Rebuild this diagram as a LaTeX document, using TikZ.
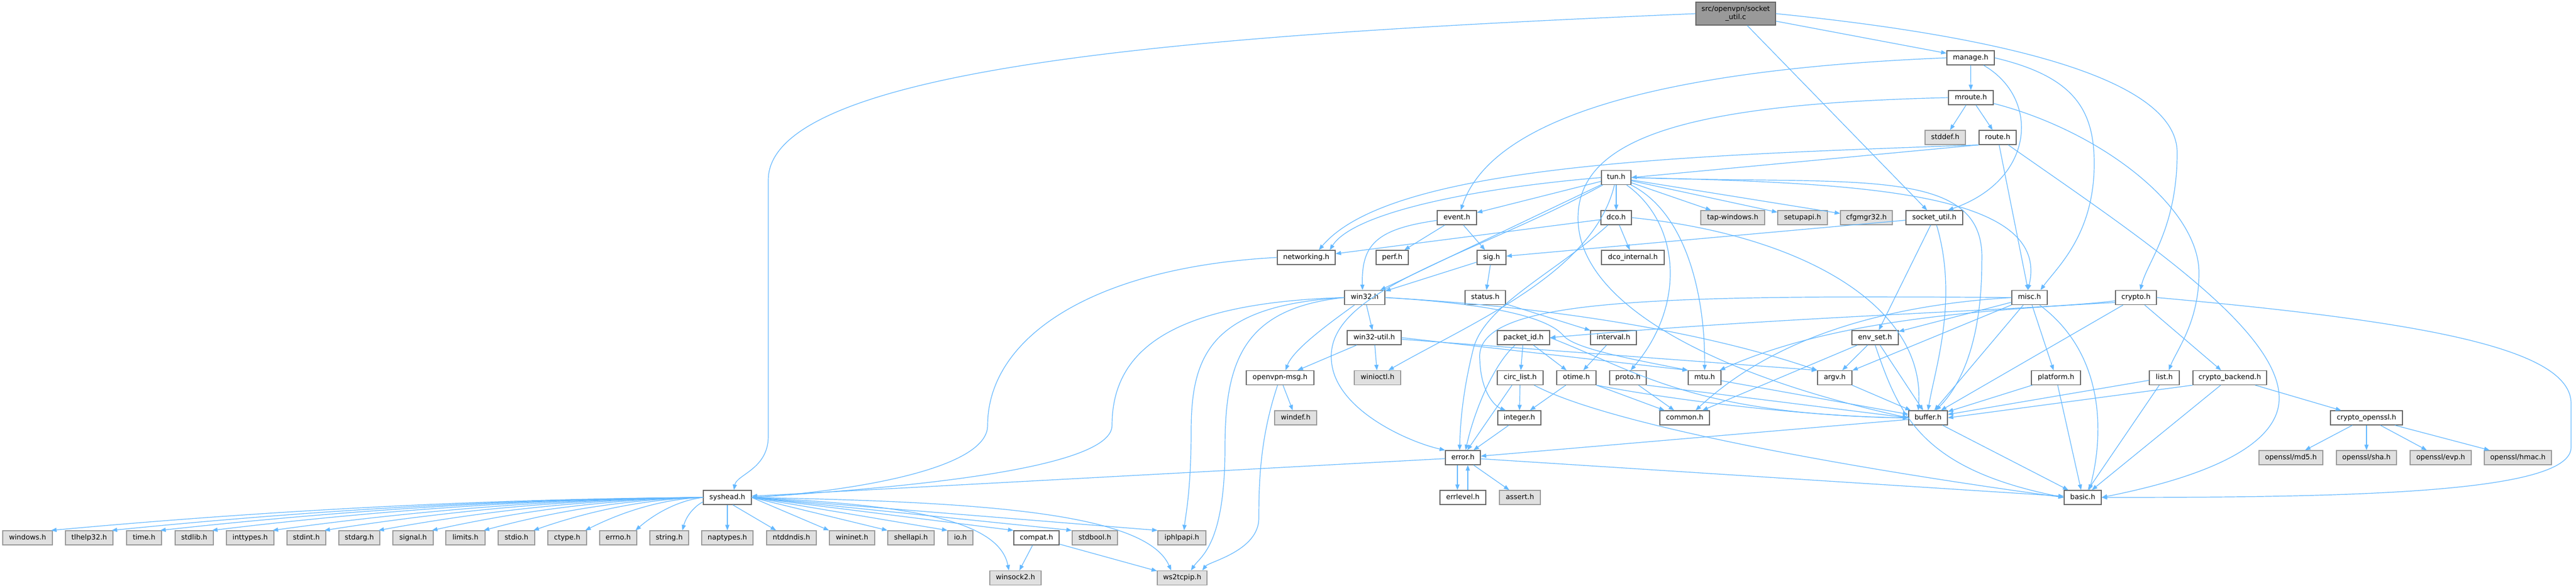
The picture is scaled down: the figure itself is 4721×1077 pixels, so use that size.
\documentclass[tikz,border=0pt]{standalone}
\usepackage{fontspec}
\setmainfont{DejaVu Sans}
\usetikzlibrary{arrows.meta}
\definecolor{edgeblue}{HTML}{63B8FF}
\definecolor{nodeborder}{HTML}{666666}
\definecolor{extfill}{HTML}{E0E0E0}
\definecolor{extborder}{HTML}{999999}
\definecolor{rootfill}{HTML}{999999}
\begin{document}
\begin{tikzpicture}[x=1pt,y=-1pt,
  nd/.style={draw=nodeborder, fill=white, line width=1.3pt, inner sep=0pt,
    minimum height=26pt, text height=9.7pt, text depth=3.3pt,
    font=\fontsize{12.9pt}{15pt}\selectfont},
  ext/.style={nd, draw=extborder, fill=extfill},
  wd/.style={minimum width=#1pt},
  dep/.style={draw=edgeblue, line width=1.2pt, -{Triangle[length=10pt,width=7.5pt]}}
]
\useasboundingbox (0,0) rectangle (4721,1077);
\fill[white] (0,0) rectangle (4721,1077);

% ---------- nodes ----------
\node[draw=nodeborder, fill=rootfill, line width=1.3pt, inner sep=0pt,
  minimum width=146pt, minimum height=42pt, align=center,
  font=\fontsize{12.9pt}{15pt}\selectfont] (src) at (3181,25) {src/openvpn/socket\\\_util.c};
\node[nd,wd=87] (manage) at (3611.5,106) {manage.h};
\node[nd,wd=82] (mroute) at (3612,179) {mroute.h};
\node[ext,wd=74] (stddef) at (3565,252) {stddef.h};
\node[nd,wd=68] (route) at (3661,252) {route.h};
\node[nd,wd=54] (tun) at (2962,325.5) {tun.h};
\node[nd,wd=72] (event) at (2670,399) {event.h};
\node[nd,wd=56] (dco) at (2962,399) {dco.h};
\node[ext,wd=117] (tapwin) at (3175.5,399) {tap-windows.h};
\node[ext,wd=91] (setupapi) at (3303.5,399) {setupapi.h};
\node[ext,wd=95] (cfgmgr) at (3420.5,399) {cfgmgr32.h};
\node[nd,wd=104] (sockh) at (3545,399) {socket\_util.h};
\node[nd,wd=106] (networking) at (2394,472) {networking.h};
\node[nd,wd=59] (perf) at (2551.5,472) {perf.h};
\node[nd,wd=53] (sig) at (2733.5,472) {sig.h};
\node[nd,wd=115] (dcoint) at (2992.5,472) {dco\_internal.h};
\node[nd,wd=74] (win32) at (2501,545.5) {win32.h};
\node[nd,wd=74] (status) at (2722,545.5) {status.h};
\node[nd,wd=65] (misc) at (3719.5,545.5) {misc.h};
\node[nd,wd=75] (crypto) at (3914.5,545.5) {crypto.h};
\node[nd,wd=99] (win32util) at (2518.5,619) {win32-util.h};
\node[nd,wd=96] (packetid) at (2792,619) {packet\_id.h};
\node[nd,wd=84] (interval) at (2957,619) {interval.h};
\node[nd,wd=85] (envset) at (3436.5,619) {env\_set.h};
\node[nd,wd=124] (ovpnmsg) at (2346,692.5) {openvpn-msg.h};
\node[ext,wd=85] (winioctl) at (2524.5,692.5) {winioctl.h};
\node[nd,wd=84] (circlist) at (2786,692.5) {circ\_list.h};
\node[nd,wd=72] (otime) at (2889,692.5) {otime.h};
\node[nd,wd=67] (proto) at (2983.5,692.5) {proto.h};
\node[nd,wd=60] (mtu) at (3124,692.5) {mtu.h};
\node[nd,wd=63] (argv) at (3362.5,692.5) {argv.h};
\node[nd,wd=90] (platform) at (3768,692.5) {platform.h};
\node[nd,wd=55] (listh) at (3966.5,692.5) {list.h};
\node[nd,wd=135] (cbackend) at (4086.5,692.5) {crypto\_backend.h};
\node[ext,wd=77] (windef) at (2374.5,766) {windef.h};
\node[nd,wd=79] (integer) at (2784.5,766) {integer.h};
\node[nd,wd=91] (common) at (3087.5,766) {common.h};
\node[nd,wd=71] (buffer) at (3533.5,766) {buffer.h};
\node[nd,wd=132] (copenssl) at (4337,766) {crypto\_openssl.h};
\node[nd,wd=64] (errorh) at (2681,839) {error.h};
\node[ext,wd=117] (md5) at (4198.5,839) {openssl/md5.h};
\node[ext,wd=110] (sha) at (4337,839) {openssl/sha.h};
\node[ext,wd=112] (evp) at (4473,839) {openssl/evp.h};
\node[ext,wd=123] (hmac) at (4614.5,839) {openssl/hmac.h};
\node[nd,wd=88] (syshead) at (1333,912) {syshead.h};
\node[nd,wd=84] (errlevel) at (2681,912) {errlevel.h};
\node[ext,wd=75] (asserth) at (2785.5,912) {assert.h};
\node[nd,wd=68] (basic) at (3817,912) {basic.h};
\node[ext,wd=91] (windows) at (50.5,986) {windows.h};
\node[ext,wd=87] (tlhelp) at (163.5,986) {tlhelp32.h};
\node[ext,wd=64] (timeh) at (264,986) {time.h};
\node[ext,wd=70] (stdlib) at (356,986) {stdlib.h};
\node[ext,wd=87] (inttypes) at (458.5,986) {inttypes.h};
\node[ext,wd=71] (stdint) at (561.5,986) {stdint.h};
\node[ext,wd=75] (stdarg) at (658.5,986) {stdarg.h};
\node[ext,wd=74] (signalh) at (757,986) {signal.h};
\node[ext,wd=72] (limits) at (853,986) {limits.h};
\node[ext,wd=67] (stdio) at (946.5,986) {stdio.h};
\node[ext,wd=71] (ctype) at (1039.5,986) {ctype.h};
\node[ext,wd=68] (errno) at (1133,986) {errno.h};
\node[ext,wd=71] (stringh) at (1226.5,986) {string.h};
\node[ext,wd=94] (naptypes) at (1333,986) {naptypes.h};
\node[ext,wd=91] (ntddndis) at (1450.5,986) {ntddndis.h};
\node[ext,wd=83] (wininet) at (1561.5,986) {wininet.h};
\node[ext,wd=85] (shellapi) at (1669.5,986) {shellapi.h};
\node[ext,wd=46] (ioh) at (1760,986) {io.h};
\node[nd,wd=83] (compat) at (1899.5,986) {compat.h};
\node[ext,wd=83] (stdbool) at (2006.5,986) {stdbool.h};
\node[ext,wd=88] (iphlpapi) at (2166,986) {iphlpapi.h};
\node[ext,wd=94] (winsock) at (1861,1059.5) {winsock2.h};
\node[ext,wd=91] (ws2tcpip) at (2166.5,1059.5) {ws2tcpip.h};

% ---------- edges ----------
% socket_util.c
\draw[dep] (src.west) .. controls (2300,60) and (1408,110) .. (1408,330) -- (1408,800) .. controls (1408,860) and (1350,870) .. ([xshift=12pt]syshead.north);
\draw[dep] (src) -- (manage);
\draw[dep] (src) -- (sockh);
\draw[dep] (src.east) .. controls (3700,70) and (3990,150) .. (3990,280) .. controls (3990,420) and (3935,480) .. ([xshift=8pt]crypto.north);
% manage.h
\draw[dep] (manage.west) .. controls (3100,125) and (2740,200) .. ([xshift=7pt]event.north);
\draw[dep] (manage) -- (mroute);
\draw[dep] (manage) .. controls (3740,180) and (3730,330) .. ([xshift=25pt]sockh.north);
\draw[dep] (manage.east) .. controls (3800,140) and (3838,200) .. (3838,300) .. controls (3838,430) and (3770,490) .. ([xshift=20pt]misc.north);
% mroute.h
\draw[dep] (mroute) -- (stddef);
\draw[dep] (mroute) -- (route);
\draw[dep] (mroute) .. controls (3850,240) and (4030,380) .. (4030,500) .. controls (4030,590) and (3990,640) .. ([xshift=8pt]listh.north);
\draw[dep] (mroute.west) .. controls (3100,190) and (2892,250) .. (2892,400) .. controls (2892,560) and (3150,690) .. (buffer.west);
% route.h
\draw[dep] (route.south west) -- (tun.east);
\draw[dep] (route.south west) .. controls (3100,285) and (2550,300) .. ([xshift=23pt]networking.north);
\draw[dep] (route) -- (misc);
\draw[dep] (route) .. controls (3900,420) and (4177,600) .. (4177,730) .. controls (4177,840) and (3960,890) .. (basic.east);
% tun.h
\draw[dep] (tun.west) .. controls (2700,345) and (2480,390) .. ([xshift=43pt]networking.north);
\draw[dep] (tun) -- (event);
\draw[dep] (tun) -- (win32);
\draw[dep] (tun) .. controls (2700,470) and (2430,530) .. (2440,660) .. controls (2445,750) and (2580,810) .. (errorh.north west);
\draw[dep] (tun) .. controls (2920,500) and (2700,590) .. ([xshift=20pt]winioctl.north);
\draw[dep] (tun) -- (dco);
\draw[dep] (tun) .. controls (3080,410) and (3090,560) .. ([xshift=5pt]proto.north);
\draw[dep] (tun) .. controls (3090,390) and (3125,540) .. (mtu.north);
\draw[dep] (tun) -- (tapwin);
\draw[dep] (tun) -- (setupapi);
\draw[dep] (tun) -- (cfgmgr);
\draw[dep] (tun.east) .. controls (3400,335) and (3760,350) .. ([xshift=-3pt]misc.north);
\draw[dep] (tun.east) .. controls (3400,340) and (3640,300) .. (3632,480) .. controls (3632,650) and (3580,720) .. ([xshift=14pt]buffer.north);
% event.h
\draw[dep] (event) .. controls (2520,420) and (2495,450) .. ([xshift=-4pt]win32.north);
\draw[dep] (event) -- (perf);
\draw[dep] (event) -- (sig);
% dco.h
\draw[dep] (dco) -- (networking);
\draw[dep] (dco) -- (dcoint);
\draw[dep] (dco) .. controls (2850,500) and (2720,560) .. (2700,640) .. controls (2680,720) and (2676,780) .. ([xshift=-6pt]errorh.north);
\draw[dep] (dco.east) .. controls (3300,430) and (3530,560) .. ([xshift=-18pt]buffer.north);
% socket_util.h
\draw[dep] (sockh) -- (sig);
\draw[dep] (sockh) -- (envset);
\draw[dep] (sockh) .. controls (3590,550) and (3545,680) .. (buffer.north);
% networking.h
\draw[dep] (networking.west) .. controls (2000,490) and (1810,620) .. (1810,780) .. controls (1810,870) and (1500,905) .. (syshead.east);
% sig, status, interval
\draw[dep] (sig) -- (win32);
\draw[dep] (sig) -- (status);
\draw[dep] (status) -- (interval);
\draw[dep] (interval) -- (otime);
% win32.h
\draw[dep] (win32.west) .. controls (2150,555) and (2038,640) .. (2038,780) .. controls (2038,870) and (1550,900) .. (syshead.east);
\draw[dep] (win32.west) .. controls (2220,560) and (2183,650) .. (2183,790) .. controls (2183,900) and (2172,950) .. ([xshift=4pt]iphlpapi.north);
\draw[dep] (win32.west) .. controls (2280,565) and (2245,660) .. (2245,820) .. controls (2245,1000) and (2200,1020) .. ([xshift=16pt]ws2tcpip.north);
\draw[dep] (win32) -- (win32util);
\draw[dep] (win32) .. controls (2440,590) and (2370,640) .. ([xshift=10pt]ovpnmsg.north);
\draw[dep] (win32.east) .. controls (2700,555) and (2830,575) .. (2865,615) .. controls (2885,640) and (3000,660) .. (mtu.north west);
\draw[dep] (win32.east) .. controls (2800,560) and (3100,600) .. (argv.north west);
% win32-util.h
\draw[dep] (win32util) -- (ovpnmsg);
\draw[dep] (win32util) -- (winioctl);
\draw[dep] (win32util.east) -- (mtu.north west);
\draw[dep] ([yshift=-3pt]win32util.east) -- (argv.north west);
% openvpn-msg.h
\draw[dep] (ovpnmsg) -- (windef);
\draw[dep] (ovpnmsg) .. controls (2310,800) and (2307,880) .. (2307,950) .. controls (2307,1010) and (2215,1030) .. ([xshift=37pt]ws2tcpip.north);
% packet_id.h
\draw[dep] (packetid) -- (circlist);
\draw[dep] (packetid) -- (otime);
\draw[dep] (packetid) .. controls (2735,670) and (2700,760) .. ([xshift=5pt]errorh.north);
\draw[dep] (packetid.east) .. controls (3000,680) and (3100,760) .. (buffer.west);
% circ_list.h
\draw[dep] (circlist) -- (integer);
\draw[dep] ([xshift=-15pt]circlist.south) -- ([xshift=8pt]errorh.north);
\draw[dep] (circlist) .. controls (2950,780) and (3400,860) .. (basic.west);
% otime.h
\draw[dep] (otime) -- (integer);
\draw[dep] (otime) -- (common);
\draw[dep] (otime.south east) .. controls (3100,740) and (3350,765) .. (buffer.west);
% proto.h, mtu.h, argv.h
\draw[dep] (proto) -- (common);
\draw[dep] (proto.south east) -- (buffer.west);
\draw[dep] (mtu) -- (buffer);
\draw[dep] (argv) -- (buffer);
% env_set.h
\draw[dep] (envset) -- (argv);
\draw[dep] (envset) -- (common);
\draw[dep] (envset) -- (buffer);
\draw[dep] (envset.south) .. controls (3480,760) and (3520,860) .. (basic.west);
% misc.h
\draw[dep] (misc) -- (argv);
\draw[dep] (misc.west) .. controls (3450,560) and (3250,620) .. ([xshift=20pt]common.north);
\draw[dep] (misc) -- (envset);
\draw[dep] (misc.west) .. controls (3000,540) and (2700,550) .. (2712,660) .. controls (2714,720) and (2740,745) .. ([xshift=-25pt]integer.north);
\draw[dep] (misc) -- (buffer);
\draw[dep] (misc) -- (platform);
\draw[dep] (misc) .. controls (3860,650) and (3855,800) .. ([xshift=12pt]basic.north);
% crypto.h
\draw[dep] ([yshift=-6pt]crypto.west) .. controls (3750,568) and (3300,578) .. (packetid.east);
\draw[dep] ([yshift=-9pt]crypto.west) .. controls (3600,570) and (3350,590) .. ([xshift=-3pt]mtu.north east);
\draw[dep] (crypto) -- (buffer);
\draw[dep] (crypto) -- (cbackend);
\draw[dep] (crypto.east) .. controls (4450,590) and (4712,640) .. (4712,740) -- (4712,820) .. controls (4712,905) and (4300,912) .. (basic.east);
% platform, list, crypto_backend, crypto_openssl
\draw[dep] (platform) -- (buffer);
\draw[dep] (platform) -- (basic);
\draw[dep] (listh) -- (buffer);
\draw[dep] (listh) -- (basic);
\draw[dep] (cbackend) -- (copenssl);
\draw[dep] (cbackend.south west) -- (buffer.east);
\draw[dep] (cbackend) -- (basic);
\draw[dep] (copenssl) -- (md5);
\draw[dep] (copenssl) -- (sha);
\draw[dep] (copenssl) -- (evp);
\draw[dep] (copenssl) -- (hmac);
% integer, buffer, error, errlevel
\draw[dep] (integer) -- (errorh);
\draw[dep] (buffer) -- (errorh);
\draw[dep] (buffer) -- (basic);
\draw[dep] (errorh) -- (syshead);
\draw[dep] ([xshift=-10pt]errorh.south) -- ([xshift=-10pt]errlevel.north);
\draw[dep] ([xshift=9pt]errlevel.north) -- ([xshift=9pt]errorh.south);
\draw[dep] (errorh) -- (asserth);
\draw[dep] (errorh) -- (basic);
% syshead.h
\draw[dep] (syshead.west) .. controls (811,915) and (393,945) .. ([xshift=-3pt]windows.north east);
\draw[dep] (syshead.west) .. controls (855,915) and (476,945) .. ([xshift=-3pt]tlhelp.north east);
\draw[dep] (syshead.west) .. controls (891,915) and (543,945) .. ([xshift=-3pt]timeh.north east);
\draw[dep] (syshead.west) .. controls (929,915) and (614,945) .. ([xshift=-3pt]stdlib.north east);
\draw[dep] (syshead.west) .. controls (973,915) and (697,945) .. ([xshift=-3pt]inttypes.north east);
\draw[dep] (syshead.west) .. controls (1011,915) and (769,945) .. ([xshift=-3pt]stdint.north east);
\draw[dep] (syshead.west) .. controls (1051,915) and (843,945) .. ([xshift=-3pt]stdarg.north east);
\draw[dep] (syshead.west) .. controls (1090,915) and (916,945) .. ([xshift=-3pt]signalh.north east);
\draw[dep] (syshead.west) .. controls (1128,915) and (988,945) .. ([xshift=-3pt]limits.north east);
\draw[dep] (syshead.west) .. controls (1165,915) and (1056,945) .. ([xshift=-3pt]stdio.north east);
\draw[dep] (syshead.west) .. controls (1203,915) and (1127,945) .. ([xshift=-3pt]ctype.north east);
\draw[dep] (syshead.west) .. controls (1239,918) and (1196,945) .. ([xshift=-3pt]errno.north east);
\draw[dep] ([yshift=-8pt]syshead.west) .. controls (1273,928) and (1258,945) .. ([xshift=-12pt]stringh.north east);
\draw[dep] (syshead) -- (naptypes);
\draw[dep] ([xshift=10pt]syshead.south) -- ([xshift=18pt]ntddndis.north west);
\draw[dep] (syshead.east) -- (wininet.north west);
\draw[dep] (syshead.east) -- (shellapi.north west);
\draw[dep] (syshead.east) -- (ioh.north west);
\draw[dep] (syshead.east) -- (compat.north west);
\draw[dep] (syshead.east) -- (stdbool.north west);
\draw[dep] (syshead.east) -- (iphlpapi.north west);
\draw[dep] (syshead.east) .. controls (1650,925) and (1830,950) .. ([xshift=-12pt]winsock.north);
\draw[dep] (syshead.east) .. controls (1800,920) and (2100,940) .. ([xshift=-20pt]ws2tcpip.north);
% compat.h
\draw[dep] (compat) -- (winsock);
\draw[dep] (compat) -- (ws2tcpip);
\end{tikzpicture}
\end{document}
